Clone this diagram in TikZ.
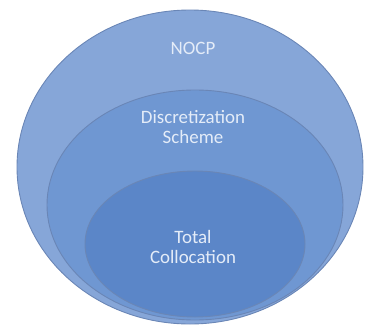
\documentclass[tikz,border=0pt]{standalone}
\usepackage{fontspec}
\setmainfont{Carlito}
\usepackage{xcolor}

\definecolor{outerblue}{HTML}{86A6D8}
\definecolor{middleblue}{HTML}{6F97D2}
\definecolor{innerblue}{HTML}{5B86C8}
\definecolor{rimblue}{HTML}{6A86B6}
\definecolor{labeltext}{HTML}{E4ECF8}

\tikzset{
  layer/.style={draw=rimblue, line width=0.9bp},
  layerlabel/.style={text=labeltext, align=center, font=\fontsize{19}{21}\selectfont, inner sep=0pt}
}

\begin{document}
\begin{tikzpicture}[x=1bp, y=-1bp]
            \useasboundingbox (0,0) rectangle (366,326);

            % Outer set
            \draw[layer, fill=outerblue] (190,167) ellipse [x radius=173, y radius=157];
            \node (nocp) at (193,48) [layerlabel] {NOCP};

            % Middle set
            \draw[layer, fill=middleblue] (195,205) ellipse [x radius=148, y radius=115];
            \node (scheme) at (193,127) [layerlabel] {Discretization\\Scheme};

            % Inner set
            \draw[layer, fill=innerblue] (195,244) ellipse [x radius=110, y radius=73];
            \node (colloc) at (193,247) [layerlabel] {Total\\Collocation};
        \end{tikzpicture}
\end{document}
